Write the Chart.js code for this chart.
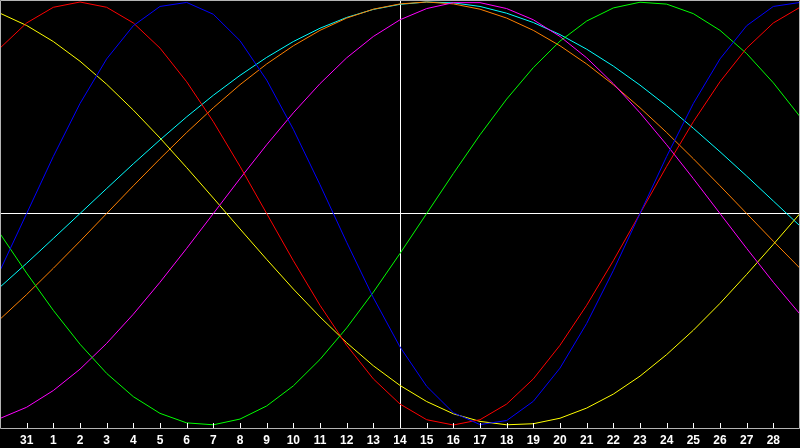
<!DOCTYPE html>
<html>
<head>
<meta charset="utf-8">
<title>Biorritmo</title>
<script src="https://cdn.jsdelivr.net/npm/chart.js@4"></script>
<style>
    html, body { margin: 0; padding: 0; background: #000; }
    #wrap { width: 800px; height: 448px; }
</style>
</head>
<body>
<div id="wrap"><canvas id="grafica" width="800" height="448"></canvas></div>
<script>
// dias (30 ene .. 1 mar), el primero y el ultimo no llevan etiqueta
const dias = ['30', '31', '1', '2', '3', '4', '5', '6', '7', '8', '9', '10', '11', '12', '13', '14',
    '15', '16', '17', '18', '19', '20', '21', '22', '23', '24', '25', '26', '27', '28', '1'];
const hoy = 15; // indice del 14

// fisico (23 dias) - azul
const fisico = [-0.270, 0.000, 0.270, 0.520, 0.731, 0.888, 0.979, 0.998, 0.942, 0.817, 0.631,
    0.398, 0.136, -0.136, -0.398, -0.631, -0.817, -0.942, -0.998, -0.979, -0.888,
    -0.731, -0.520, -0.270, 0.000, 0.270, 0.520, 0.731, 0.888, 0.979, 0.998];
// emocional (28 dias) - rojo
const emocional = [0.782, 0.901, 0.975, 1.000, 0.975, 0.901, 0.782, 0.623, 0.434, 0.223, 0.000,
    -0.223, -0.434, -0.623, -0.782, -0.901, -0.975, -1.000, -0.975, -0.901, -0.782,
    -0.623, -0.434, -0.223, 0.000, 0.223, 0.434, 0.623, 0.782, 0.901, 0.975];
// intelectual (33 dias) - verde
const intelectual = [-0.095, -0.282, -0.458, -0.618, -0.756, -0.866, -0.945, -0.990, -0.999, -0.972, -0.910,
    -0.815, -0.690, -0.541, -0.372, -0.189, 0.000, 0.189, 0.372, 0.541, 0.690,
    0.815, 0.910, 0.972, 0.999, 0.990, 0.945, 0.866, 0.756, 0.618, 0.458];
// intuicion (38 dias) - magenta
const intuicion = [-0.969, -0.916, -0.837, -0.736, -0.614, -0.476, -0.325, -0.165, 0.000, 0.165, 0.325,
    0.476, 0.614, 0.736, 0.837, 0.916, 0.969, 0.997, 0.997, 0.969, 0.916,
    0.837, 0.736, 0.614, 0.476, 0.325, 0.165, 0.000, -0.165, -0.325, -0.476];
// estetico (43 dias) - amarillo
const estetico = [0.947, 0.889, 0.813, 0.720, 0.611, 0.489, 0.357, 0.217, 0.073, -0.073, -0.217,
    -0.357, -0.489, -0.611, -0.720, -0.813, -0.889, -0.947, -0.983, -0.999, -0.994,
    -0.968, -0.920, -0.854, -0.769, -0.667, -0.552, -0.425, -0.288, -0.146, 0.000];
// conciencia (48 dias) - naranja
const conciencia = [-0.500, -0.383, -0.259, -0.131, 0.000, 0.131, 0.259, 0.383, 0.500, 0.609, 0.707,
    0.793, 0.866, 0.924, 0.966, 0.991, 1.000, 0.991, 0.966, 0.924, 0.866,
    0.793, 0.707, 0.609, 0.500, 0.383, 0.259, 0.131, 0.000, -0.131, -0.259];
// espiritual (53 dias) - cian
const espiritual = [-0.348, -0.235, -0.118, 0.000, 0.118, 0.235, 0.348, 0.457, 0.559, 0.653, 0.738,
    0.813, 0.876, 0.927, 0.965, 0.989, 1.000, 0.996, 0.979, 0.947, 0.903,
    0.846, 0.777, 0.697, 0.607, 0.509, 0.403, 0.292, 0.177, 0.059, -0.059];

function serie(nombre, datos, color) {
    return {
        label: nombre,
        data: datos,
        borderColor: color,
        backgroundColor: color,
        borderWidth: 1,
        pointRadius: 0,
        pointHoverRadius: 0,
        tension: 0,
        fill: false
    };
}

// marco gris y marcas pequenas del eje
const marco = {
    id: 'marco',
    afterDraw: function (chart) {
        const ctx = chart.ctx;
        const area = chart.chartArea;
        const ejeX = chart.scales.x;
        ctx.save();
        ctx.strokeStyle = '#b4b4b4';
        ctx.lineWidth = 1;
        ctx.beginPath();
        ctx.moveTo(0.5, area.bottom + 0.5);
        ctx.lineTo(0.5, 0.5);
        ctx.lineTo(799.5, 0.5);
        ctx.lineTo(799.5, area.bottom + 0.5);
        ctx.lineTo(0.5, area.bottom + 0.5);
        ctx.stroke();
        ctx.strokeStyle = '#ffffff';
        ctx.beginPath();
        for (var i = 1; i < dias.length - 1; i++) {
            var x = Math.round(ejeX.getPixelForTick(i)) + 0.5;
            ctx.moveTo(x, area.bottom - 5);
            ctx.lineTo(x, area.bottom);
        }
        ctx.stroke();
        ctx.restore();
    }
};

const grafica = new Chart(document.getElementById('grafica'), {
    type: 'line',
    data: {
        labels: dias,
        datasets: [
            serie('Fisico', fisico, '#0000ff'),
            serie('Emocional', emocional, '#ff0000'),
            serie('Intelectual', intelectual, '#00ff00'),
            serie('Intuicion', intuicion, '#ff00ff'),
            serie('Estetico', estetico, '#ffff00'),
            serie('Conciencia', conciencia, '#ff8000'),
            serie('Espiritual', espiritual, '#00ffff')
        ]
    },
    options: {
        responsive: false,
        animation: false,
        devicePixelRatio: 1,
        layout: { padding: 0, autoPadding: false },
        plugins: {
            legend: { display: false },
            tooltip: { enabled: false }
        },
        scales: {
            x: {
                offset: false,
                afterFit: function (scale) {
                    scale.height = 20;
                    scale.paddingLeft = 0;
                    scale.paddingRight = 0;
                },
                border: { display: false },
                grid: {
                    drawTicks: false,
                    color: function (ctx) { return ctx.index === hoy ? '#ffffff' : 'rgba(0,0,0,0)'; }
                },
                ticks: {
                    autoSkip: false,
                    maxRotation: 0,
                    padding: 5,
                    color: '#ffffff',
                    font: { family: 'Liberation Sans', size: 12, weight: 'bold' },
                    callback: function (valor, indice) {
                        return (indice === 0 || indice === dias.length - 1) ? '' : dias[indice];
                    }
                }
            },
            y: {
                min: -1.0142,
                max: 1.0095,
                afterFit: function (scale) { scale.width = 0; },
                afterBuildTicks: function (scale) { scale.ticks = [{ value: 0 }]; },
                border: { display: false },
                grid: {
                    drawTicks: false,
                    color: '#ffffff'
                },
                ticks: { display: false }
            }
        }
    },
    plugins: [marco]
});
</script>
</body>
</html>
